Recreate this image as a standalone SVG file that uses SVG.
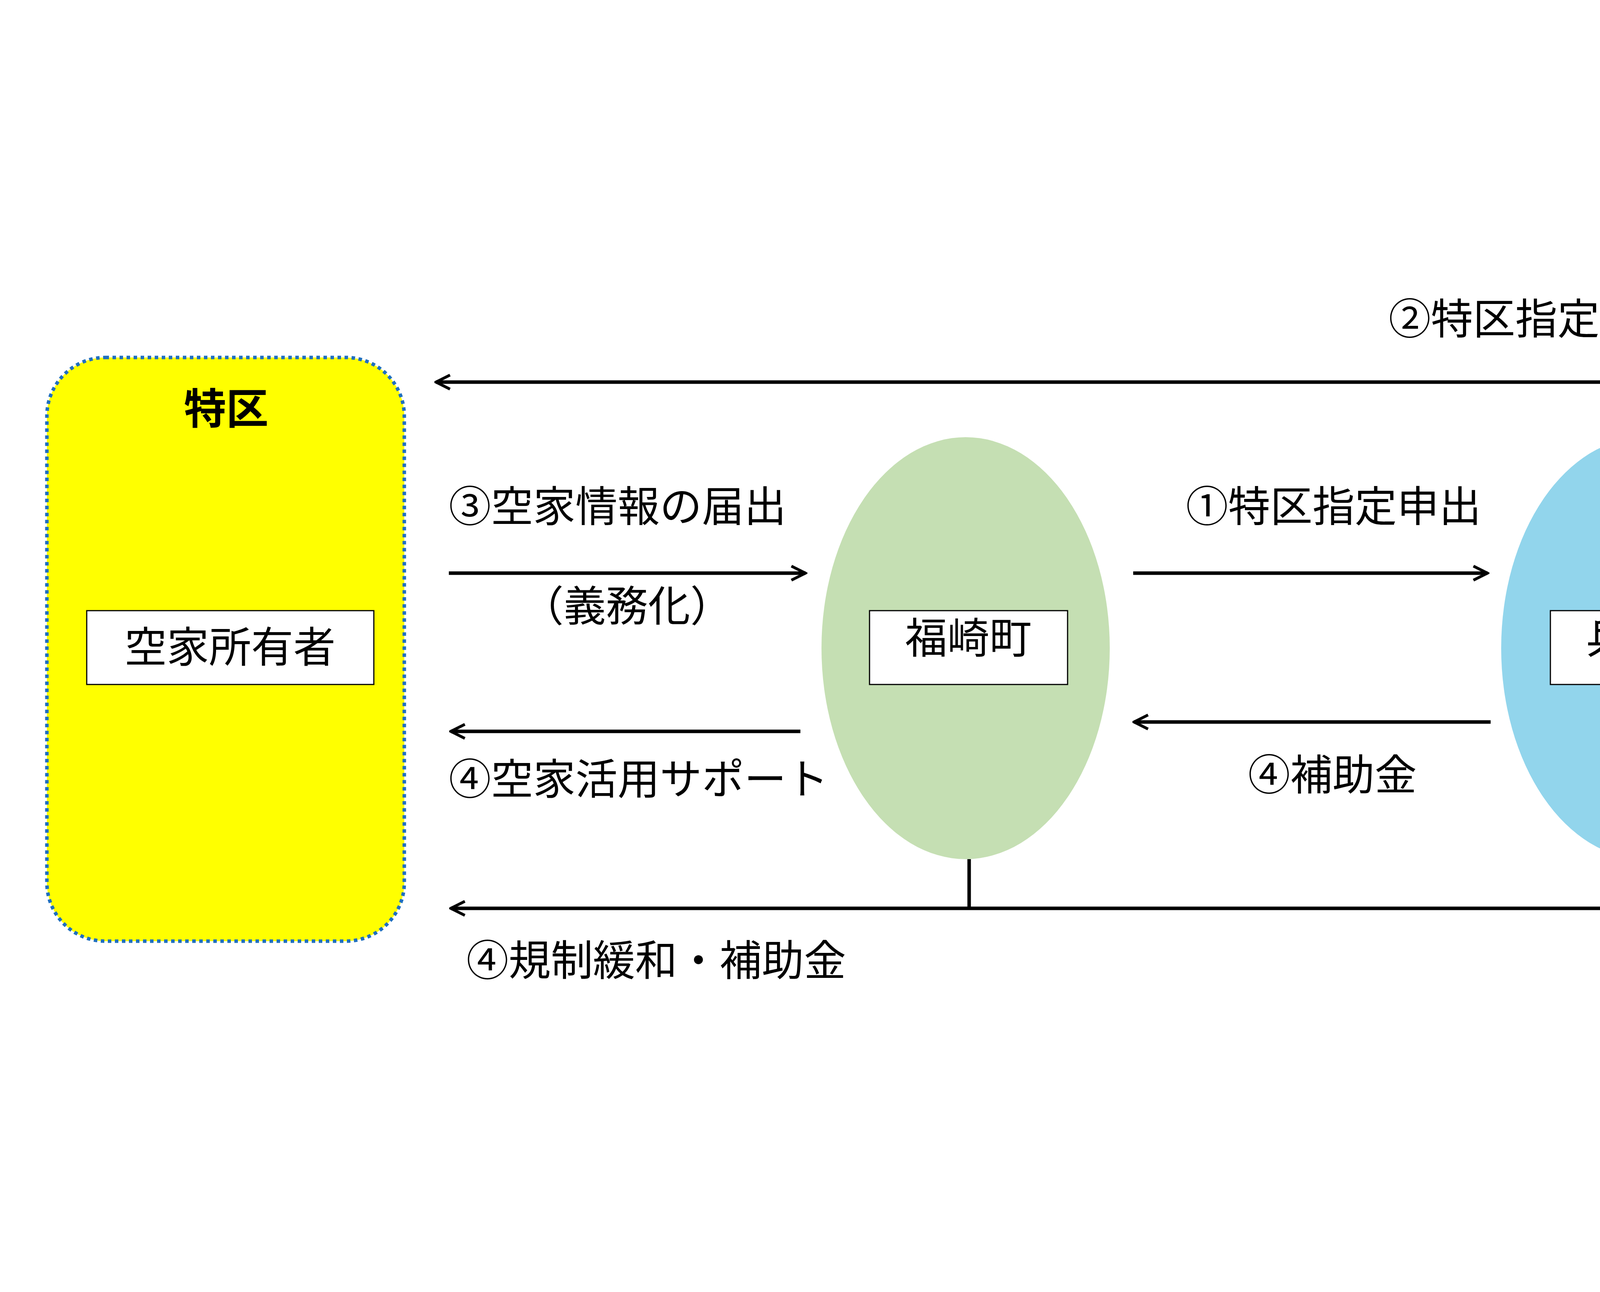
<svg xmlns="http://www.w3.org/2000/svg" width="4677" height="3307" viewBox="0 0 4677 3307">
<style>
.t{font-family:"Noto Sans CJK JP","Liberation Sans",sans-serif;font-size:108px;fill:#000}
.ln{fill:none;stroke:#000;stroke-width:9}
.bx{fill:#fff;stroke:#000;stroke-width:3}
</style>
<defs>
<marker id="a" viewBox="0 0 10 10" refX="9" refY="5" markerWidth="5" markerHeight="5" markerUnits="strokeWidth" orient="auto">
<polyline points="1,1 9,5 1,9" fill="none" stroke="#000" stroke-width="1.6"/>
</marker>
</defs>
<rect width="4677" height="3307" fill="#fff"/>
<g id="tokku">
<rect x="120" y="915" width="915" height="1494" rx="150" fill="#ffff00" stroke="#1f6fc0" stroke-width="9" stroke-dasharray="9,9"/>
<text class="t" x="579" y="1085" text-anchor="middle" font-weight="bold">特区</text>
</g>
<g id="owner">
<rect class="bx" x="222" y="1563" width="735" height="189"/>
<text class="t" x="589" y="1695" text-anchor="middle">空家所有者</text>
</g>
<g id="fukusaki">
<ellipse cx="2472" cy="1659" rx="369" ry="540" fill="#c5dfb3"/>
<rect class="bx" x="2226" y="1563" width="507" height="189"/>
<text class="t" x="2479" y="1672" text-anchor="middle">福崎町</text>
</g>
<g id="hyogo">
<ellipse cx="4212" cy="1659" rx="369" ry="540" fill="#92d5ec"/>
<rect class="bx" x="3969" y="1563" width="507" height="189"/>
<text class="t" x="4222" y="1672" text-anchor="middle">兵庫県</text>
</g>
<g id="connectors">
<polyline class="ln" points="4182,1119 4182,978 1116,978" marker-end="url(#a)"/>
<line class="ln" x1="1149" y1="1467" x2="2062" y2="1467" marker-end="url(#a)"/>
<line class="ln" x1="2901" y1="1467" x2="3808" y2="1467" marker-end="url(#a)"/>
<line class="ln" x1="3816" y1="1848" x2="2903" y2="1848" marker-end="url(#a)"/>
<line class="ln" x1="2049" y1="1872" x2="1154" y2="1872" marker-end="url(#a)"/>
<polyline class="ln" points="4221,2199 4221,2325 1154,2325" marker-end="url(#a)"/>
<line class="ln" x1="2481" y1="2199" x2="2481" y2="2325"/>
</g>
<g id="labels">
<text class="t" x="3555" y="855">②特区指定</text>
<text class="t" x="1149" y="1335">③空家情報の届出</text>
<text class="t" x="1605" y="1590" text-anchor="middle">（義務化）</text>
<text class="t" x="3036" y="1335">①特区指定申出</text>
<text class="t" x="3195" y="2022">④補助金</text>
<text class="t" x="1149" y="2033">④空家活用サポート</text>
<text class="t" x="1194" y="2497">④規制緩和・補助金</text>
</g>
</svg>
